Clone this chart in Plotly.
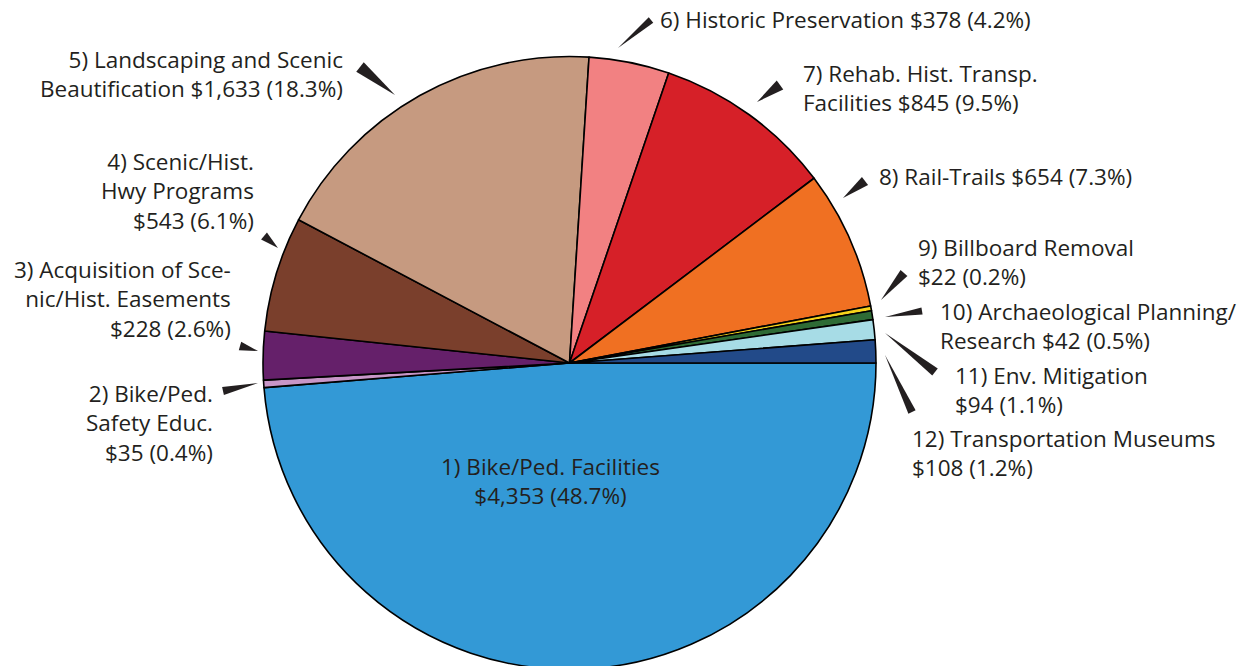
import plotly.graph_objects as go

# ---------------- data ----------------
categories = [
    "Bike/Ped. Facilities", "Bike/Ped. Safety Educ.", "Acquisition of Scenic/Hist. Easements",
    "Scenic/Hist. Hwy Programs", "Landscaping and Scenic Beautification", "Historic Preservation",
    "Rehab. Hist. Transp. Facilities", "Rail-Trails", "Billboard Removal",
    "Archaeological Planning/Research", "Env. Mitigation", "Transportation Museums",
]
values = [4353, 35, 228, 543, 1633, 378, 845, 654, 22, 42, 94, 108]
percents = [48.7, 0.4, 2.6, 6.1, 18.3, 4.2, 9.5, 7.3, 0.2, 0.5, 1.1, 1.2]
label_templates = [
    "1) Bike/Ped. Facilities<br>{v} ({p})",
    "2) Bike/Ped.<br>Safety Educ.<br>{v} ({p})",
    "3) Acquisition of Sce-<br>nic/Hist. Easements<br>{v} ({p})",
    "4) Scenic/Hist.<br>Hwy Programs<br>{v} ({p})",
    "5) Landscaping and Scenic<br>Beautification {v} ({p})",
    "6) Historic Preservation {v} ({p})",
    "7) Rehab. Hist. Transp.<br>Facilities {v} ({p})",
    "8) Rail-Trails {v} ({p})",
    "9) Billboard Removal<br>{v} ({p})",
    "10) Archaeological Planning/<br>Research {v} ({p})",
    "11) Env. Mitigation<br>{v} ({p})",
    "12) Transportation Museums<br>{v} ({p})",
]
colors = ["#3399d6", "#c896c8", "#65206a", "#7a3f2c", "#c69a80", "#f28182",
          "#d62028", "#f07022", "#f5d31b", "#2e6b35", "#a7dce6", "#224a89"]

# ---------------- layout (pixels) ----------------
W, H = 1247, 740
CX, CY, R = 569.5, 363, 306.5
FONT = dict(family="Open Sans", size=22.5, color="#231f20")

# label anchor x, block centre y, alignment
label_pos = [
    (550, 481, "center"), (215, 423, "right"), (233, 299, "right"), (256, 191, "right"),
    (345, 73.5, "right"), (658, 20, "left"), (801, 88, "left"), (877, 176, "left"),
    (916, 262, "left"), (938, 325.5, "left"), (953, 390, "left"), (910, 453, "left"),
]
# pointer wedges: base centre (x, y), tip (x, y), base width
pointers = [
    None,
    (223, 391, 258, 383, 8), (240, 346, 258, 351, 9), (264, 236, 278, 248, 9),
    (360, 67, 395, 95, 12), (651, 20, 618, 48, 7), (780, 85, 757, 102, 11),
    (865, 181, 843, 198, 10), (904, 273, 881, 300, 9), (922, 311, 885, 317, 7),
    (935, 372, 885, 333, 9), (912, 412, 885, 355, 8),
]

def px(x):
    return x / W

def py(y):
    return 1 - y / H

fig = go.Figure(go.Pie(
    labels=categories, values=values, sort=False, direction="clockwise", rotation=90,
    marker=dict(colors=colors, line=dict(color="#000000", width=1.6)),
    textinfo="none", hoverinfo="label+value+percent", showlegend=False,
    domain=dict(x=[px(CX - R), px(CX + R)], y=[py(CY + R), py(CY - R)]),
))

annotations = []
for tpl, val, pct, (x, y, al) in zip(label_templates, values, percents, label_pos):
    text = tpl.format(v=f"${val:,}", p=f"{pct}%")
    annotations.append(dict(
        x=px(x), y=py(y), xref="paper", yref="paper", text=text,
        showarrow=False, xanchor=al, yanchor="middle", align=al, font=FONT,
    ))

shapes = []
for p in pointers:
    if p is None:
        continue
    bx, by, tx, ty, w = p
    dx, dy = tx - bx, ty - by
    L = (dx * dx + dy * dy) ** 0.5
    nx, ny = -dy / L * w / 2, dx / L * w / 2
    pts = [(bx + nx, by + ny), (bx - nx, by - ny), (tx, ty)]
    path = "M " + " L ".join(f"{px(a):.5f},{py(b):.5f}" for a, b in pts) + " Z"
    shapes.append(dict(type="path", xref="paper", yref="paper", path=path,
                       fillcolor="#231f20", line=dict(width=0)))

fig.update_layout(
    width=W, height=H, margin=dict(l=0, r=0, t=0, b=0),
    paper_bgcolor="white", plot_bgcolor="white",
    annotations=annotations, shapes=shapes,
)

fig.write_html(
    "out.html",
    config={"displayModeBar": False},
    post_script="document.body.style.margin='0';document.body.style.overflow='hidden';"
                "document.documentElement.style.overflow='hidden';",
)
